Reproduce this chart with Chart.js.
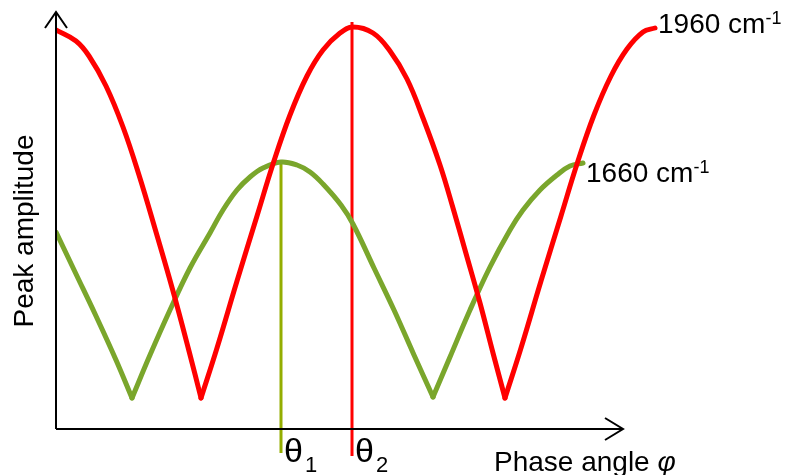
<!DOCTYPE html>
<html>
<head>
<meta charset="utf-8">
<script src="https://cdn.jsdelivr.net/npm/chart.js@4/dist/chart.umd.min.js"></script>
<style>
  html, body { margin: 0; padding: 0; background: #fff; }
  #wrap { width: 788px; height: 475px; }
</style>
</head>
<body>
<div id="wrap"><canvas id="myChart"></canvas></div>
<script>
// phase angle (arbitrary units) and peak amplitude
const phase1960 = [0, 20, 33, 50, 67, 83, 100, 117, 133, 145,
  161, 181, 201, 217, 234, 251, 267, 284, 297, 317, 334, 351, 367, 384, 397, 411, 424, 437, 449,
  465, 485, 505, 521, 538, 555, 571, 587, 599];
const amp1960 = [399, 388, 373, 343, 302, 254, 197, 138, 78, 31,
  81, 148, 213, 265, 314, 353, 379, 396, 402, 396, 378, 350, 311, 264, 221, 172, 126, 76, 31,
  81, 148, 213, 265, 314, 353, 380, 397, 401];

const phase1660 = [0, 20, 40, 60, 76,
  94, 114, 134, 154, 167, 181, 194, 207, 225, 241, 254, 267, 285, 297, 318, 338, 358, 377,
  394, 414, 434, 454, 467, 484, 501, 514, 527];
const amp1660 = [197, 155, 113, 69, 31,
  74, 119, 161, 196, 219, 239, 252, 261, 267, 264, 257, 245, 224, 205, 161, 119, 74, 32,
  72, 119, 162, 199, 219, 239, 254, 263, 266];

const theta1 = 225, theta2 = 296;
const theta1Line = [267, -24];
const theta2Line = [407, -27];

const seriesNames = ['1960 cm', '1660 cm'];
const xAxisEnd = 567, yAxisEnd = 417;

const toPts = (xs, ys) => xs.map((x, i) => ({ x: x, y: ys[i] }));

// split a curve at its sharp minima so each arch is smoothed on its own
function arches(xs, ys) {
  const out = [];
  let start = 0;
  for (let i = 1; i < ys.length - 1; i++) {
    if (ys[i] < ys[i - 1] && ys[i] < ys[i + 1]) {
      out.push(toPts(xs.slice(start, i + 1), ys.slice(start, i + 1)));
      start = i;
    }
  }
  out.push(toPts(xs.slice(start), ys.slice(start)));
  return out;
}

const curve = (pts, color) => ({
  data: pts, borderColor: color, borderWidth: 5, tension: 0.4,
  borderCapStyle: 'round', borderJoinStyle: 'miter'
});

const axesPlugin = {
  id: 'axesAndLabels',
  afterDatasetsDraw(chart) {
    const ctx = chart.ctx;
    const xs = chart.scales.x, ys = chart.scales.y;
    const x0 = xs.getPixelForValue(0), y0 = ys.getPixelForValue(0);
    const xe = xs.getPixelForValue(xAxisEnd), ye = ys.getPixelForValue(yAxisEnd);
    ctx.save();
    ctx.strokeStyle = '#000';
    ctx.lineWidth = 2;
    ctx.beginPath();
    ctx.moveTo(x0, y0); ctx.lineTo(xe, y0);
    ctx.moveTo(x0, y0); ctx.lineTo(x0, ye);
    // arrow heads
    ctx.moveTo(xe - 18, y0 - 11); ctx.lineTo(xe, y0); ctx.lineTo(xe - 18, y0 + 11);
    ctx.moveTo(x0 - 11, ye + 16); ctx.lineTo(x0, ye); ctx.lineTo(x0 + 11, ye + 16);
    ctx.stroke();

    ctx.fillStyle = '#000';
    ctx.textBaseline = 'alphabetic';
    ctx.textAlign = 'left';
    const big = '28px "Liberation Sans", Arial, sans-serif';
    const sup = '18px "Liberation Sans", Arial, sans-serif';
    const label = (txt, supTxt, x, y) => {
      ctx.font = big;
      ctx.fillText(txt, x, y);
      const w = ctx.measureText(txt).width;
      ctx.font = sup;
      ctx.fillText(supTxt, x + w, y - 9);
    };
    label(seriesNames[0], '-1', xs.getPixelForValue(602), ys.getPixelForValue(396));
    label(seriesNames[1], '-1', xs.getPixelForValue(530), ys.getPixelForValue(247));

    ctx.font = big;
    ctx.fillText('Phase angle ', 494, 471);
    const pw = ctx.measureText('Phase angle ').width;
    ctx.font = 'italic 28px "Liberation Sans", Arial, sans-serif';
    ctx.fillText('φ', 494 + pw, 471);

    // theta labels
    const th = (sub, xv) => {
      const x = xs.getPixelForValue(xv) + 3;
      ctx.font = '34px "Liberation Sans", Arial, sans-serif';
      ctx.fillText('θ', x, 462);
      const w = ctx.measureText('θ').width;
      ctx.font = '22px "Liberation Sans", Arial, sans-serif';
      ctx.fillText(sub, x + w + 2, 472);
    };
    th('1', theta1);
    th('2', theta2);

    ctx.translate(33, 231);
    ctx.rotate(-Math.PI / 2);
    ctx.textAlign = 'center';
    ctx.font = big;
    ctx.fillText('Peak amplitude', 0, 0);
    ctx.restore();
  }
};

const datasets = [];
arches(phase1960, amp1960).forEach(p => datasets.push(curve(p, '#ff0000')));
arches(phase1660, amp1660).forEach(p => datasets.push(curve(p, '#7aa62c')));
datasets.push({ data: toPts([theta1, theta1], theta1Line), borderColor: '#93ad00', borderWidth: 3 });
datasets.push({ data: toPts([theta2, theta2], theta2Line), borderColor: '#ff0000', borderWidth: 3 });

new Chart(document.getElementById('myChart'), {
  type: 'line',
  data: { datasets: datasets },
  options: {
    responsive: true,
    maintainAspectRatio: false,
    animation: false,
    layout: { padding: { left: 56, right: 128, top: 10, bottom: 15 } },
    elements: { point: { radius: 0, hoverRadius: 0 } },
    plugins: { legend: { display: false }, tooltip: { enabled: false } },
    scales: {
      x: { type: 'linear', min: 0, max: 604, display: false },
      y: { type: 'linear', min: -31, max: 419, display: false }
    }
  },
  plugins: [axesPlugin]
});
</script>
</body>
</html>
